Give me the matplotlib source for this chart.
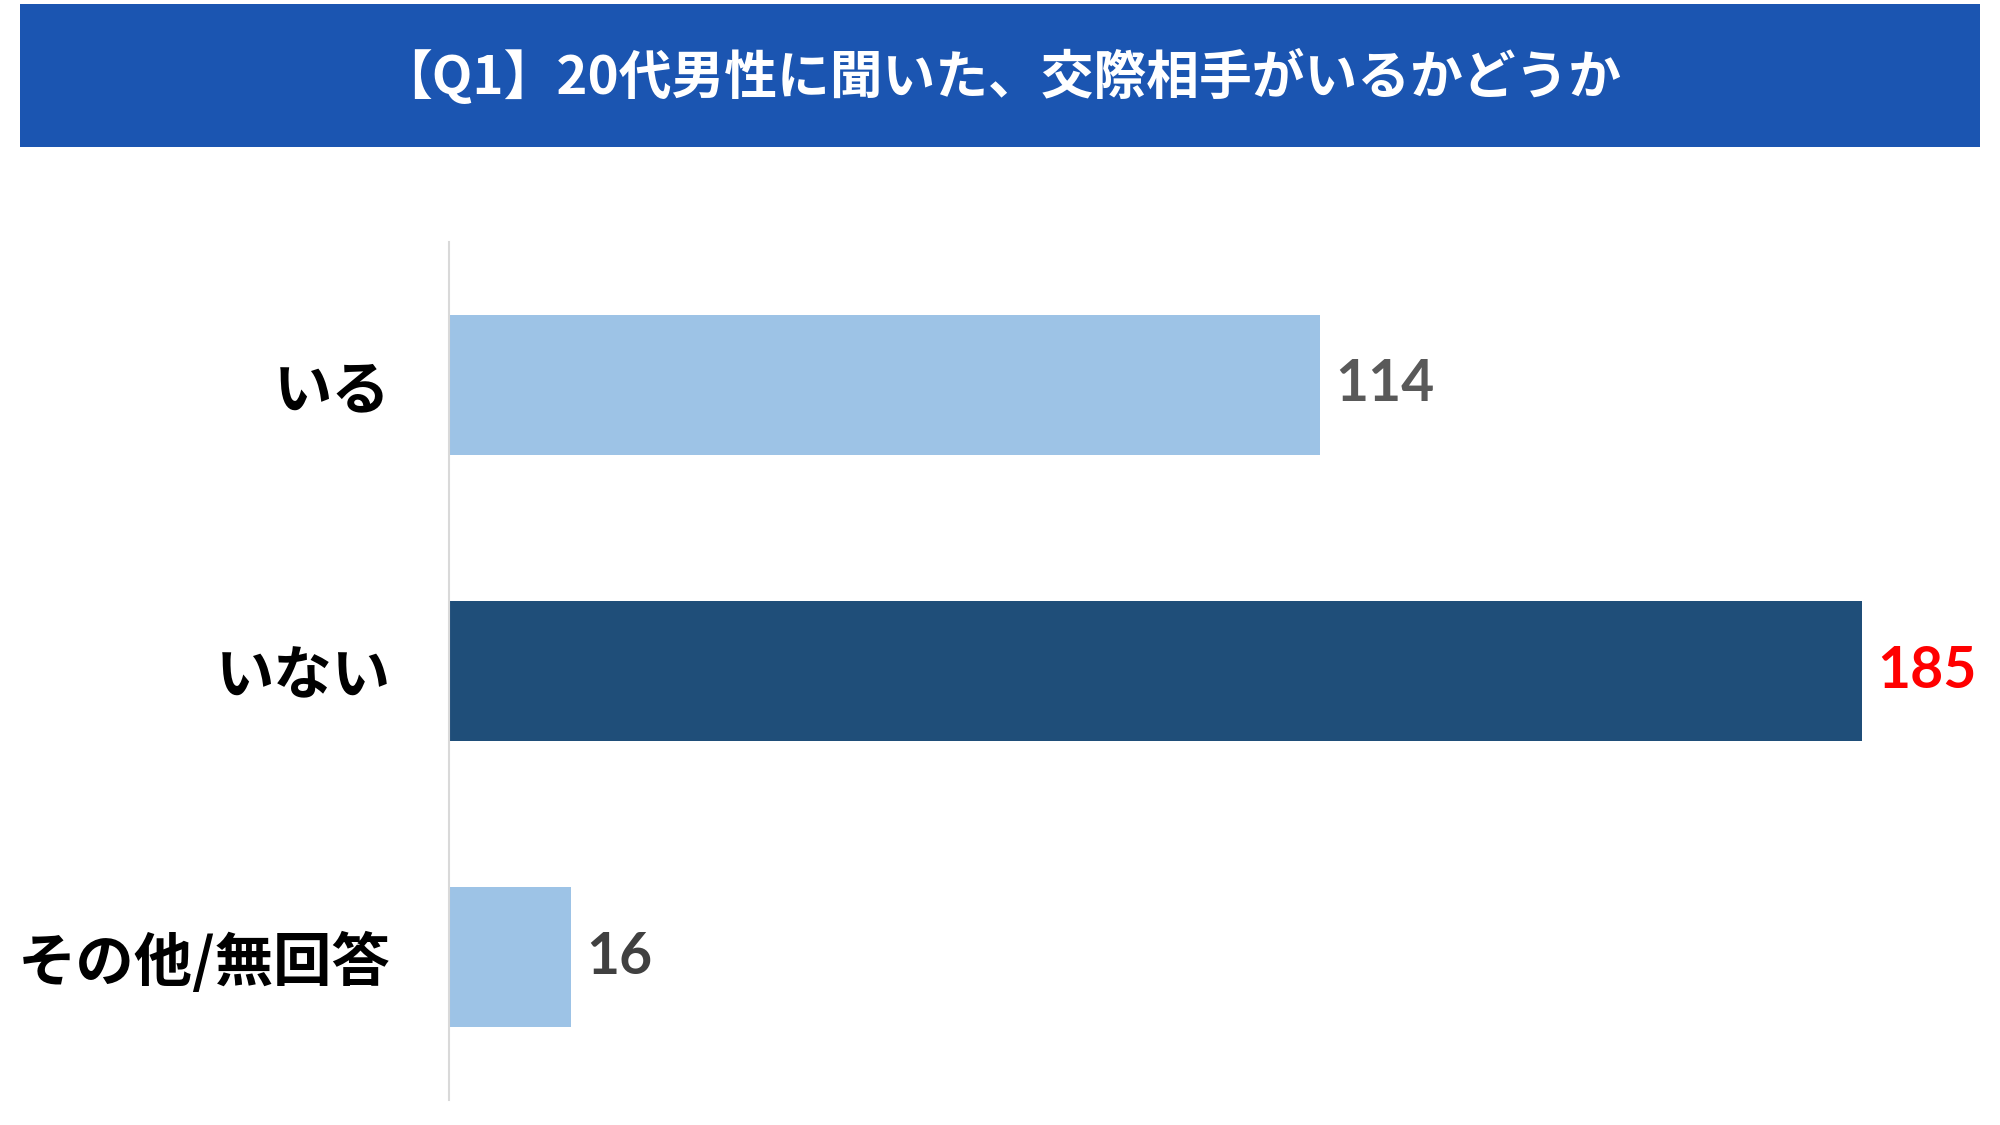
import matplotlib.pyplot as plt
from matplotlib.patches import Rectangle

plt.rcParams['font.family'] = ['Noto Sans CJK JP', 'DejaVu Sans']

# data
categories = ['いる', 'いない', 'その他/無回答']
counts = [114, 185, 16]
bar_colors = ['#9DC3E6', '#1F4E79', '#9DC3E6']
label_colors = ['#595959', '#FF0000', '#404040']
title = '【Q1】20代男性に聞いた、交際相手がいるかどうか'

fig = plt.figure(figsize=(20, 11.25), dpi=100)

# title banner
fig.patches.append(Rectangle((0.01, 0.8693), 0.98, 0.1271, transform=fig.transFigure,
                             facecolor='#1B55B1', edgecolor='none', zorder=0))
fig.text(0.5, 0.932, title, color='white', fontsize=38, fontweight='bold',
         ha='center', va='center')

ax = fig.add_axes([0.2245, 0.0222, 0.764, 0.7627])
y = range(len(categories))
ax.barh(y, counts, height=0.49, color=bar_colors)
ax.set_ylim(2.5, -0.5)
ax.set_xlim(0, 200)

for i, v in enumerate(counts):
    ax.annotate(str(v), (v, i), xytext=(11, 0), textcoords='offset points',
                ha='left', va='center', fontsize=41, fontweight='bold',
                color=label_colors[i], family=['Lato', 'DejaVu Sans'])

ax.set_yticks(list(y))
ax.set_yticklabels(categories, fontsize=42, fontweight='bold', color='black')
ax.tick_params(axis='y', length=0, pad=42)
ax.set_xticks([])

for s in ['top', 'right', 'bottom']:
    ax.spines[s].set_visible(False)
ax.spines['left'].set_color('#D9D9D9')
ax.spines['left'].set_linewidth(1.5)

plt.savefig('out.png', dpi=100)
